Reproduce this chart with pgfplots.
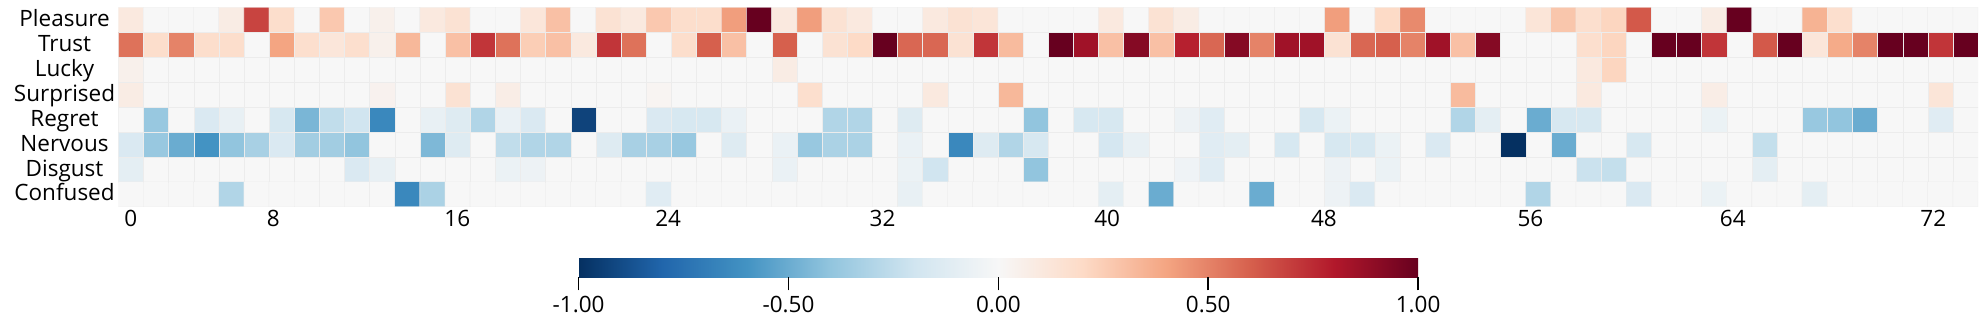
\documentclass[border=0pt]{standalone}
\usepackage{fontspec}
\setmainfont{Open Sans}
\usepackage{pgfplots}
\pgfplotsset{compat=1.18}
\pgfplotsset{
  colormap={rdbu}{rgb255=(5,48,97) rgb255=(33,102,172) rgb255=(67,147,195) rgb255=(146,197,222) rgb255=(209,229,240) rgb255=(247,247,247) rgb255=(253,219,199) rgb255=(244,165,130) rgb255=(214,96,77) rgb255=(178,24,43) rgb255=(103,0,31)},
}
\begin{document}
\begin{tikzpicture}
\begin{axis}[
  at={(0,0)}, anchor=south west,
  scale only axis,
  width=743.9pt, height=79.76pt,
  xmin=-0.5, xmax=73.5, ymin=-0.5, ymax=7.5,
  y dir=reverse,
  axis line style={draw=none},
  tick style={draw=none},
  major tick length=0pt,
  xtick={0,5.67,12.99,21.38,29.91,38.85,47.47,55.69,63.74,71.72},
  xticklabels={0,8,16,24,32,40,48,56,64,72},
  ytick={0,1,2,3,4,5,6,7},
  yticklabels={Pleasure,Trust,Lucky,Surprised,Regret,Nervous,Disgust,Confused},
  xticklabel style={anchor=north, inner sep=0pt, yshift=-1.3pt},
  yticklabel style={anchor=mid, inner sep=0pt, xshift=-21.5pt},
  tick label style={font=\fontsize{9}{10}\selectfont},
  colormap name=rdbu,
  point meta min=-1, point meta max=1,
  colorbar horizontal,
  colorbar style={
    at={(0.2475,-0.2588)}, anchor=north west,
    scale only axis,
    width=335.8pt, height=7.6pt,
    y dir=normal,
    ytick=\empty,
    xtick={-1,-0.5,0,0.5,1},
    xticklabel={\pgfmathprintnumber[fixed,fixed zerofill,precision=2,assume math mode=true]{\tick}},
    xticklabel style={anchor=north, inner sep=0pt, yshift=-2pt},
    xtick align=outside,
    xtick pos=bottom,
    major tick length=5.2pt,
    tick style={draw=black, line width=0.6pt},
    axis line style={draw=none},
  },
]
\addplot[matrix plot*, mesh/cols=74, point meta=explicit, shader=faceted, faceted color=white!70!lightgray, line width=0.12pt] coordinates {
(0,0)[0.1] (1,0)[0] (2,0)[0] (3,0)[0] (4,0)[0.08] (5,0)[0.68] (6,0)[0.18] (7,0)[0] (8,0)[0.27] (9,0)[0]
(10,0)[0.05] (11,0)[0] (12,0)[0.1] (13,0)[0.15] (14,0)[0] (15,0)[0] (16,0)[0.12] (17,0)[0.3] (18,0)[0] (19,0)[0.15]
(20,0)[0.1] (21,0)[0.27] (22,0)[0.18] (23,0)[0.18] (24,0)[0.42] (25,0)[1] (26,0)[0.1] (27,0)[0.42] (28,0)[0.15] (29,0)[0.1]
(30,0)[0] (31,0)[0] (32,0)[0.1] (33,0)[0.15] (34,0)[0.13] (35,0)[0] (36,0)[0] (37,0)[0] (38,0)[0] (39,0)[0.1]
(40,0)[0] (41,0)[0.15] (42,0)[0.08] (43,0)[0] (44,0)[0] (45,0)[0] (46,0)[0] (47,0)[0] (48,0)[0.42] (49,0)[0]
(50,0)[0.2] (51,0)[0.48] (52,0)[0] (53,0)[0] (54,0)[0] (55,0)[0] (56,0)[0.13] (57,0)[0.28] (58,0)[0.17] (59,0)[0.22]
(60,0)[0.62] (61,0)[0] (62,0)[0] (63,0)[0.08] (64,0)[1] (65,0)[0] (66,0)[0] (67,0)[0.35] (68,0)[0.17] (69,0)[0]
(70,0)[0] (71,0)[0] (72,0)[0] (73,0)[0]
(0,1)[0.55] (1,1)[0.18] (2,1)[0.5] (3,1)[0.18] (4,1)[0.18] (5,1)[0] (6,1)[0.4] (7,1)[0.17] (8,1)[0.12] (9,1)[0.17]
(10,1)[0.05] (11,1)[0.33] (12,1)[0] (13,1)[0.3] (14,1)[0.72] (15,1)[0.55] (16,1)[0.25] (17,1)[0.3] (18,1)[0.1] (19,1)[0.72]
(20,1)[0.55] (21,1)[0] (22,1)[0.18] (23,1)[0.6] (24,1)[0.3] (25,1)[0] (26,1)[0.6] (27,1)[0] (28,1)[0.15] (29,1)[0.2]
(30,1)[1] (31,1)[0.58] (32,1)[0.58] (33,1)[0.15] (34,1)[0.72] (35,1)[0.32] (36,1)[0] (37,1)[1] (38,1)[0.85] (39,1)[0.3]
(40,1)[0.92] (41,1)[0.3] (42,1)[0.78] (43,1)[0.58] (44,1)[0.92] (45,1)[0.5] (46,1)[0.85] (47,1)[0.85] (48,1)[0.15] (49,1)[0.58]
(50,1)[0.6] (51,1)[0.5] (52,1)[0.85] (53,1)[0.3] (54,1)[0.92] (55,1)[0] (56,1)[0] (57,1)[0] (58,1)[0.17] (59,1)[0.22]
(60,1)[0] (61,1)[1] (62,1)[1] (63,1)[0.72] (64,1)[0] (65,1)[0.62] (66,1)[1] (67,1)[0.12] (68,1)[0.38] (69,1)[0.5]
(70,1)[1] (71,1)[1] (72,1)[0.72] (73,1)[1]
(0,2)[0.05] (1,2)[0] (2,2)[0] (3,2)[0] (4,2)[0] (5,2)[0] (6,2)[0] (7,2)[0] (8,2)[0] (9,2)[0]
(10,2)[0] (11,2)[0] (12,2)[0] (13,2)[0] (14,2)[0] (15,2)[0] (16,2)[0] (17,2)[0] (18,2)[0] (19,2)[0]
(20,2)[0] (21,2)[0] (22,2)[0] (23,2)[0] (24,2)[0] (25,2)[0] (26,2)[0.08] (27,2)[0] (28,2)[0] (29,2)[0]
(30,2)[0] (31,2)[0] (32,2)[0] (33,2)[0] (34,2)[0] (35,2)[0] (36,2)[0] (37,2)[0] (38,2)[0] (39,2)[0]
(40,2)[0] (41,2)[0] (42,2)[0] (43,2)[0] (44,2)[0] (45,2)[0] (46,2)[0] (47,2)[0] (48,2)[0] (49,2)[0]
(50,2)[0] (51,2)[0] (52,2)[0] (53,2)[0] (54,2)[0] (55,2)[0] (56,2)[0] (57,2)[0] (58,2)[0.1] (59,2)[0.22]
(60,2)[0] (61,2)[0] (62,2)[0] (63,2)[0] (64,2)[0] (65,2)[0] (66,2)[0] (67,2)[0] (68,2)[0] (69,2)[0]
(70,2)[0] (71,2)[0] (72,2)[0] (73,2)[0]
(0,3)[0.08] (1,3)[0] (2,3)[0] (3,3)[0] (4,3)[0] (5,3)[0] (6,3)[0] (7,3)[0] (8,3)[0] (9,3)[0]
(10,3)[0.04] (11,3)[0] (12,3)[0] (13,3)[0.15] (14,3)[0] (15,3)[0.07] (16,3)[0] (17,3)[0] (18,3)[0] (19,3)[0]
(20,3)[0] (21,3)[0.02] (22,3)[0] (23,3)[0] (24,3)[0] (25,3)[0] (26,3)[0] (27,3)[0.17] (28,3)[0] (29,3)[0]
(30,3)[0] (31,3)[0] (32,3)[0.1] (33,3)[0] (34,3)[0] (35,3)[0.33] (36,3)[0] (37,3)[0] (38,3)[0] (39,3)[0]
(40,3)[0] (41,3)[0] (42,3)[0] (43,3)[0] (44,3)[0] (45,3)[0] (46,3)[0] (47,3)[0] (48,3)[0] (49,3)[0]
(50,3)[0] (51,3)[0] (52,3)[0] (53,3)[0.32] (54,3)[0] (55,3)[0] (56,3)[0] (57,3)[0] (58,3)[0.1] (59,3)[0]
(60,3)[0] (61,3)[0] (62,3)[0] (63,3)[0.07] (64,3)[0] (65,3)[0] (66,3)[0] (67,3)[0] (68,3)[0] (69,3)[0]
(70,3)[0] (71,3)[0] (72,3)[0.13] (73,3)[0]
(0,4)[0] (1,4)[-0.38] (2,4)[0] (3,4)[-0.15] (4,4)[-0.08] (5,4)[0] (6,4)[-0.17] (7,4)[-0.46] (8,4)[-0.25] (9,4)[-0.2]
(10,4)[-0.65] (11,4)[0] (12,4)[-0.08] (13,4)[-0.13] (14,4)[-0.3] (15,4)[-0.07] (16,4)[-0.15] (17,4)[0] (18,4)[-0.93] (19,4)[0]
(20,4)[0] (21,4)[-0.15] (22,4)[-0.17] (23,4)[-0.17] (24,4)[-0.07] (25,4)[0] (26,4)[0] (27,4)[0] (28,4)[-0.3] (29,4)[-0.3]
(30,4)[0] (31,4)[-0.13] (32,4)[0] (33,4)[0] (34,4)[0] (35,4)[0] (36,4)[-0.4] (37,4)[0] (38,4)[-0.17] (39,4)[-0.17]
(40,4)[0] (41,4)[0] (42,4)[-0.05] (43,4)[-0.12] (44,4)[0] (45,4)[0] (46,4)[0] (47,4)[-0.17] (48,4)[-0.06] (49,4)[0]
(50,4)[0] (51,4)[0] (52,4)[0] (53,4)[-0.3] (54,4)[-0.1] (55,4)[0] (56,4)[-0.5] (57,4)[-0.17] (58,4)[-0.17] (59,4)[0]
(60,4)[0] (61,4)[0] (62,4)[0] (63,4)[-0.06] (64,4)[0] (65,4)[0] (66,4)[0] (67,4)[-0.38] (68,4)[-0.4] (69,4)[-0.5]
(70,4)[0] (71,4)[0] (72,4)[-0.12] (73,4)[0]
(0,5)[-0.15] (1,5)[-0.38] (2,5)[-0.5] (3,5)[-0.6] (4,5)[-0.4] (5,5)[-0.33] (6,5)[-0.15] (7,5)[-0.35] (8,5)[-0.35] (9,5)[-0.4]
(10,5)[0] (11,5)[0] (12,5)[-0.45] (13,5)[-0.13] (14,5)[0] (15,5)[-0.25] (16,5)[-0.3] (17,5)[-0.3] (18,5)[0] (19,5)[-0.13]
(20,5)[-0.33] (21,5)[-0.33] (22,5)[-0.38] (23,5)[0] (24,5)[-0.13] (25,5)[0] (26,5)[-0.07] (27,5)[-0.38] (28,5)[-0.32] (29,5)[-0.32]
(30,5)[0] (31,5)[-0.07] (32,5)[0] (33,5)[-0.65] (34,5)[-0.13] (35,5)[-0.3] (36,5)[-0.17] (37,5)[0] (38,5)[0] (39,5)[-0.18]
(40,5)[-0.08] (41,5)[0] (42,5)[0] (43,5)[-0.12] (44,5)[-0.1] (45,5)[0] (46,5)[-0.17] (47,5)[0] (48,5)[-0.17] (49,5)[-0.17]
(50,5)[-0.06] (51,5)[0] (52,5)[-0.15] (53,5)[0] (54,5)[0] (55,5)[-1] (56,5)[0] (57,5)[-0.5] (58,5)[0] (59,5)[0]
(60,5)[-0.17] (61,5)[0] (62,5)[0] (63,5)[0] (64,5)[0] (65,5)[-0.24] (66,5)[0] (67,5)[0] (68,5)[0] (69,5)[0]
(70,5)[0] (71,5)[0] (72,5)[0] (73,5)[0]
(0,6)[-0.1] (1,6)[0] (2,6)[0] (3,6)[0] (4,6)[0] (5,6)[0] (6,6)[0] (7,6)[0] (8,6)[0] (9,6)[-0.15]
(10,6)[-0.08] (11,6)[0] (12,6)[0] (13,6)[0] (14,6)[0] (15,6)[-0.06] (16,6)[-0.05] (17,6)[0] (18,6)[0] (19,6)[0]
(20,6)[0] (21,6)[0] (22,6)[0] (23,6)[0] (24,6)[0] (25,6)[0] (26,6)[-0.07] (27,6)[0] (28,6)[0] (29,6)[0]
(30,6)[0] (31,6)[-0.06] (32,6)[-0.2] (33,6)[0] (34,6)[0] (35,6)[0] (36,6)[-0.4] (37,6)[0] (38,6)[0] (39,6)[0]
(40,6)[0] (41,6)[0] (42,6)[-0.04] (43,6)[-0.12] (44,6)[0] (45,6)[0] (46,6)[0] (47,6)[0] (48,6)[-0.05] (49,6)[0]
(50,6)[-0.06] (51,6)[0] (52,6)[0] (53,6)[0] (54,6)[0] (55,6)[0] (56,6)[0] (57,6)[0] (58,6)[-0.22] (59,6)[-0.24]
(60,6)[0] (61,6)[0] (62,6)[0] (63,6)[0] (64,6)[0] (65,6)[-0.1] (66,6)[0] (67,6)[0] (68,6)[0] (69,6)[0]
(70,6)[0] (71,6)[0] (72,6)[0] (73,6)[0]
(0,7)[0] (1,7)[0] (2,7)[0] (3,7)[0] (4,7)[-0.3] (5,7)[0] (6,7)[0] (7,7)[0] (8,7)[0] (9,7)[0]
(10,7)[0] (11,7)[-0.65] (12,7)[-0.32] (13,7)[0] (14,7)[0] (15,7)[0] (16,7)[0] (17,7)[0] (18,7)[0] (19,7)[0]
(20,7)[0] (21,7)[-0.12] (22,7)[0] (23,7)[0] (24,7)[0] (25,7)[0] (26,7)[0] (27,7)[0] (28,7)[0] (29,7)[0]
(30,7)[0] (31,7)[-0.08] (32,7)[0] (33,7)[0] (34,7)[0] (35,7)[0] (36,7)[0] (37,7)[0] (38,7)[0] (39,7)[-0.1]
(40,7)[0] (41,7)[-0.5] (42,7)[0] (43,7)[0] (44,7)[0] (45,7)[-0.5] (46,7)[0] (47,7)[0] (48,7)[-0.05] (49,7)[-0.15]
(50,7)[0] (51,7)[0] (52,7)[0] (53,7)[0] (54,7)[0] (55,7)[0] (56,7)[-0.3] (57,7)[0] (58,7)[0] (59,7)[0]
(60,7)[-0.15] (61,7)[0] (62,7)[0] (63,7)[-0.06] (64,7)[0] (65,7)[0] (66,7)[0] (67,7)[-0.1] (68,7)[0] (69,7)[0]
(70,7)[0] (71,7)[0] (72,7)[0] (73,7)[0]
};
\end{axis}
\pgfresetboundingbox
\path (-47.32pt,-45.32pt) rectangle (747.08pt,82.68pt);
\end{tikzpicture}
\end{document}
